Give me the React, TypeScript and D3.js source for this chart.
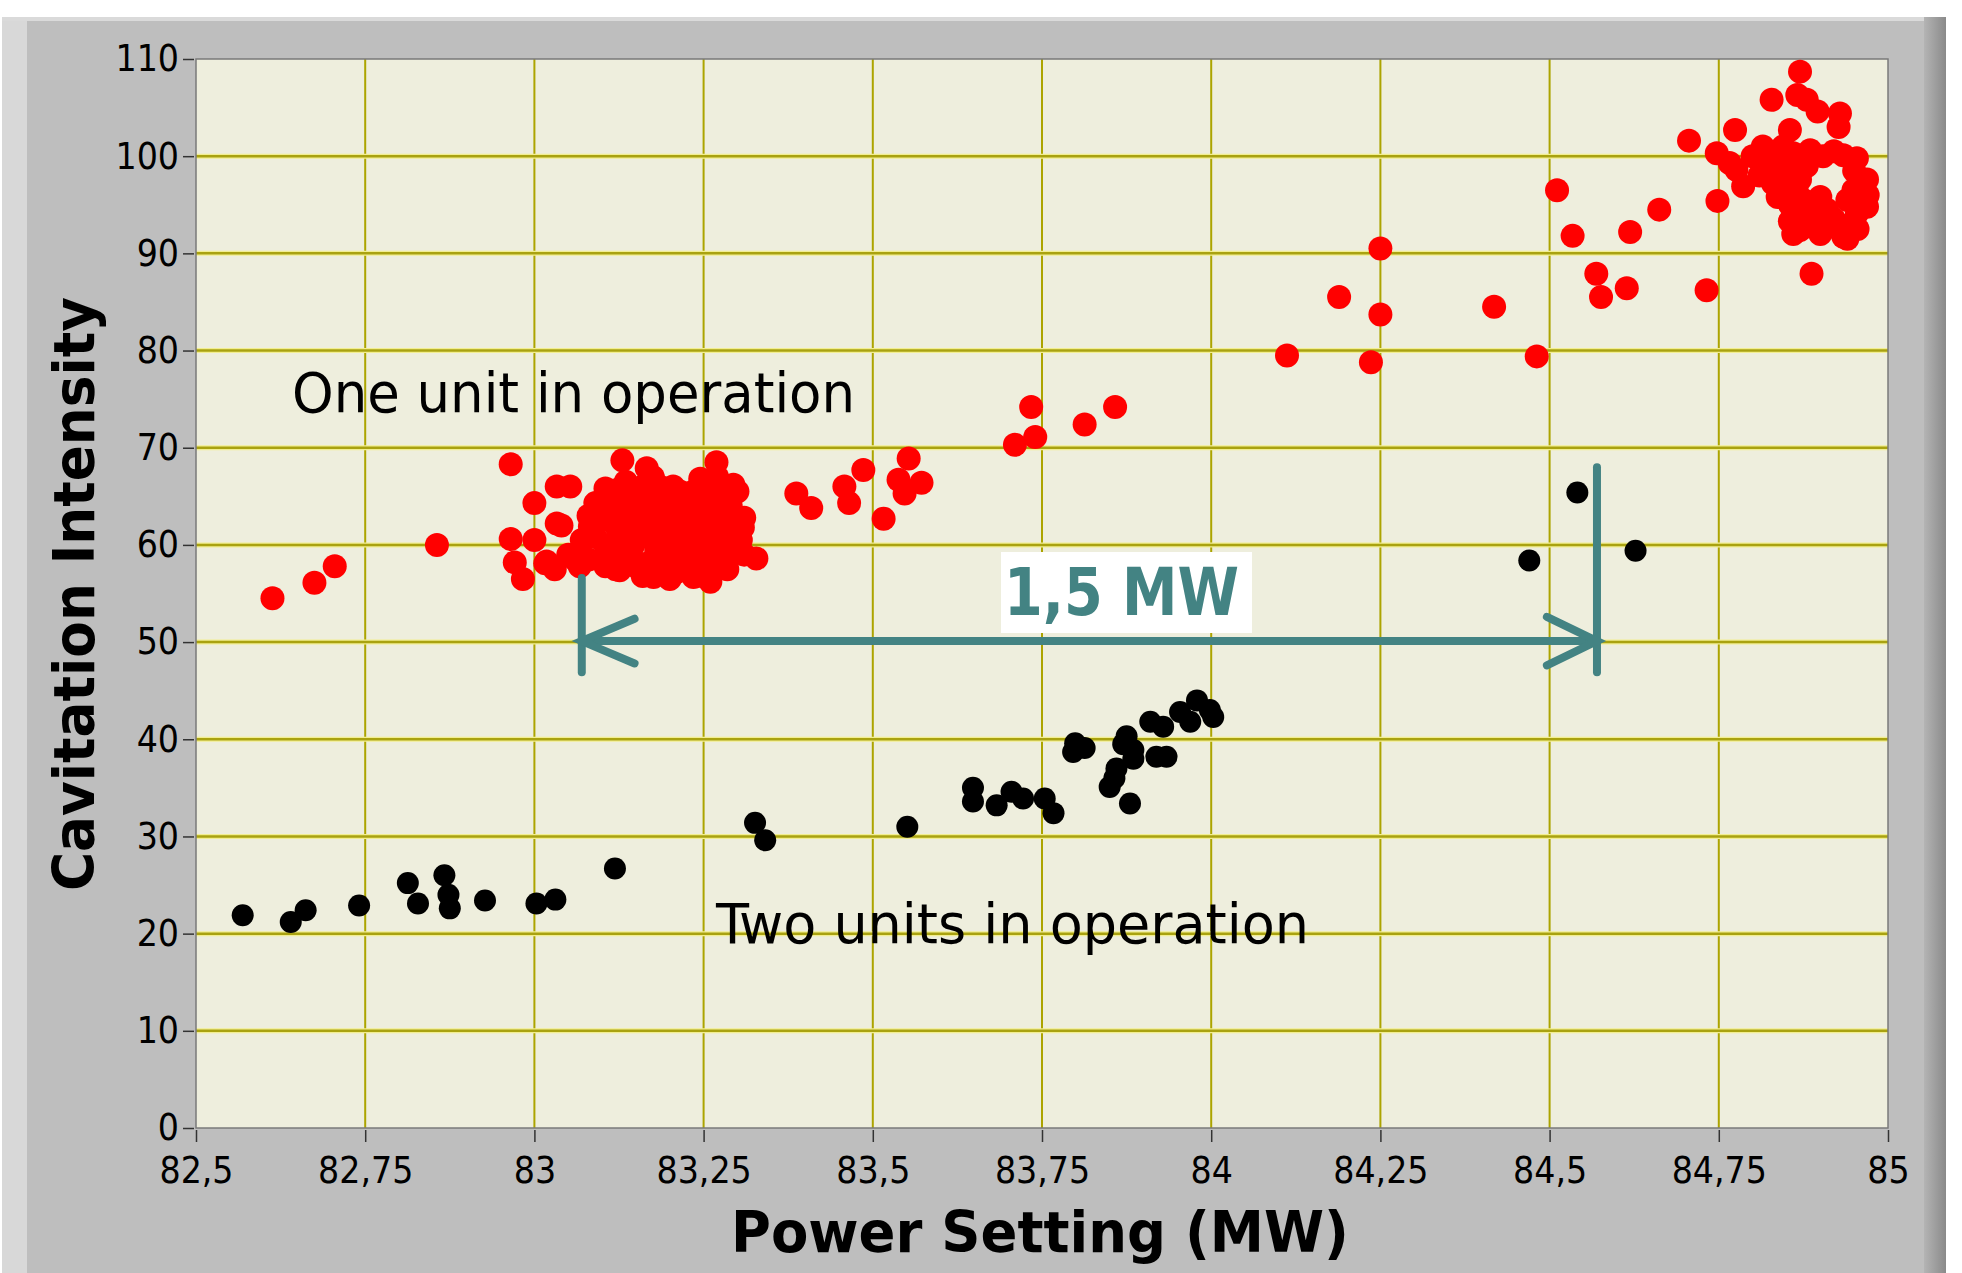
import { useEffect, useRef } from "react";
import * as d3 from "d3";

// tick values
const xTicks = [82.5, 82.75, 83, 83.25, 83.5, 83.75, 84, 84.25, 84.5, 84.75, 85];
const yTicks = [0, 10, 20, 30, 40, 50, 60, 70, 80, 90, 100, 110];

// one unit in operation (red)
const oneUnitLeft = [
  [82.613, 54.5], [82.675, 56.1], [82.705, 57.8], [82.856, 60.0], [82.965, 68.3],
  [83.0, 64.3], [83.033, 66.0], [83.053, 66.0], [82.965, 60.6], [83.0, 60.5],
  [82.971, 58.2], [82.983, 56.5], [83.033, 62.2], [83.018, 58.3], [83.016, 58.1],
  [83.03, 57.5], [83.06, 58.5], [83.04, 62.0], [83.067, 57.8], [83.082, 61.9],
  [83.09, 64.3], [83.05, 59.0], [83.07, 60.5], [83.08, 63.0],
];

const oneUnitCluster = [
  [83.13, 68.7], [83.269, 68.5], [83.166, 67.9], [83.294, 66.2], [83.25, 66.2],
  [83.124, 65.7], [83.328, 58.6], [83.294, 61.9], [83.264, 59.1], [83.235, 56.7],
  [83.176, 56.7], [83.126, 57.4], [83.294, 62.9], [83.308, 61.8],
  [83.10, 63.5], [83.12, 62.0], [83.14, 64.5], [83.15, 61.0], [83.16, 66.0],
  [83.17, 63.0], [83.18, 59.5], [83.19, 65.0], [83.20, 61.5], [83.21, 63.8],
  [83.22, 58.5], [83.23, 60.5], [83.24, 62.8], [83.25, 64.5], [83.26, 61.0],
  [83.27, 63.5], [83.28, 60.0], [83.29, 64.0], [83.11, 59.0], [83.13, 60.2],
  [83.15, 57.8], [83.17, 58.2], [83.19, 57.5], [83.21, 57.2], [83.23, 58.0],
  [83.25, 57.5], [83.27, 58.5], [83.09, 60.8], [83.08, 58.5], [83.105, 65.8],
  [83.135, 66.5], [83.175, 67.0], [83.195, 62.3], [83.215, 60.0], [83.235, 65.5],
  [83.255, 59.5], [83.285, 62.5], [83.30, 65.5], [83.31, 62.8], [83.305, 60.5],
  [83.12, 57.5], [83.16, 56.8], [83.20, 56.5], [83.24, 56.8], [83.26, 56.2],
  [83.14, 58.8], [83.18, 61.0], [83.22, 62.0], [83.28, 66.0], [83.13, 62.8],
  [83.095, 62.5], [83.105, 60.0], [83.115, 64.0], [83.125, 61.0], [83.135, 63.5],
  [83.145, 59.8], [83.155, 65.2], [83.165, 62.0], [83.175, 60.5], [83.185, 63.8],
  [83.195, 58.8], [83.205, 66.0], [83.215, 62.8], [83.225, 61.0], [83.235, 63.5],
  [83.245, 59.5], [83.255, 62.0], [83.265, 64.8], [83.275, 61.5], [83.285, 59.0],
  [83.295, 60.8], [83.145, 61.8], [83.165, 64.0], [83.185, 66.0], [83.205, 59.8],
  [83.225, 64.8], [83.245, 66.8], [83.265, 57.8], [83.195, 60.8], [83.155, 63.2],
  [83.175, 65.0], [83.215, 65.5], [83.27, 67.0], [83.285, 57.5], [83.105, 57.8],
  [83.31, 59.0],
];

const oneUnitMid = [
  [83.387, 65.3], [83.409, 63.8], [83.458, 66.0], [83.465, 64.3], [83.486, 67.7],
  [83.516, 62.7], [83.538, 66.7], [83.547, 65.3], [83.553, 68.9], [83.572, 66.4],
  [83.71, 70.3], [83.74, 71.1], [83.734, 74.2], [83.813, 72.4], [83.858, 74.2],
  [84.112, 79.5], [84.189, 85.5], [84.25, 83.7], [84.236, 78.8], [84.25, 90.5],
  [84.418, 84.5], [84.481, 79.4],
];

const oneUnitRight = [
  [84.511, 96.5], [84.534, 91.8], [84.569, 87.9], [84.576, 85.5], [84.614, 86.4],
  [84.619, 92.2], [84.662, 94.5], [84.732, 86.2], [84.887, 87.9], [84.706, 101.6],
  [84.748, 95.4], [84.87, 108.7], [84.828, 105.8], [84.866, 106.3], [84.88, 105.8],
  [84.896, 104.6], [84.929, 104.4], [84.927, 103.0], [84.774, 102.7], [84.855, 102.7],
  [84.747, 100.3], [84.766, 99.3], [84.776, 98.6], [84.786, 96.9], [84.815, 101.0],
  [84.82, 98.9], [84.83, 97.2], [84.837, 95.8], [84.86, 100.3], [84.87, 97.6],
  [84.865, 96.5], [84.885, 100.6], [84.904, 100.0], [84.934, 100.1], [84.954, 99.8],
  [84.855, 93.3], [84.87, 92.4], [84.89, 93.8], [84.91, 94.5], [84.929, 92.4],
  [84.934, 91.7], [84.949, 96.5], [84.969, 97.6], [84.969, 94.8], [84.954, 94.1],
  [84.94, 95.5], [84.875, 95.5], [84.80, 100.0], [84.81, 98.0], [84.825, 100.0],
  [84.835, 99.0], [84.845, 101.0], [84.85, 98.5], [84.84, 96.5], [84.855, 95.0],
  [84.88, 94.0], [84.9, 95.8], [84.92, 93.5], [84.945, 93.0], [84.96, 96.0],
  [84.955, 92.5], [84.92, 100.5], [84.95, 98.5], [84.97, 96.0], [84.88, 99.0],
  [84.86, 92.0], [84.9, 92.0], [84.94, 91.5],
];

// two units in operation (black)
const twoUnits = [
  [82.569, 21.9], [82.64, 21.2], [82.662, 22.4], [82.741, 22.9], [82.813, 25.2],
  [82.828, 23.1], [82.867, 26.0], [82.873, 24.0], [82.875, 22.6], [82.927, 23.4],
  [83.003, 23.1], [83.031, 23.5], [83.119, 26.7], [83.326, 31.4], [83.341, 29.6],
  [83.551, 31.0], [83.648, 35.0], [83.648, 33.6], [83.683, 33.2], [83.705, 34.6],
  [83.722, 33.9], [83.754, 33.9], [83.767, 32.4], [83.799, 39.6], [83.813, 39.1],
  [83.796, 38.7], [83.85, 35.1], [83.86, 37.0], [83.857, 36.0], [83.88, 33.4],
  [83.875, 40.3], [83.87, 39.5], [83.885, 38.9], [83.885, 38.0], [83.91, 41.8],
  [83.929, 41.3], [83.919, 38.2], [83.934, 38.2], [83.954, 42.8], [83.969, 41.8],
  [83.979, 44.0], [83.998, 43.0], [84.003, 42.3], [84.47, 58.4], [84.541, 65.4],
  [84.627, 59.4],
];

// 1,5 MW annotation (data units)
const arrowStart = 83.07;
const arrowEnd = 84.57;
const arrowLevel = 50.1;

const App = () => {
  const svgRef = useRef<SVGSVGElement | null>(null);

  useEffect(() => {
    document.body.style.margin = "0";
    drawChart();
  }, []);

  const drawChart = () => {
    const w = 1962;
    const h = 1273;
    const left = 196;
    const right = 1888;
    const top = 59;
    const bottom = 1128;
    const font = "'DejaVu Sans Condensed', 'DejaVu Sans', sans-serif";
    const teal = "#438383";

    const svg = d3.select(svgRef.current).attr("width", w).attr("height", h);
    svg.selectAll("*").remove();

    // panel frame
    svg.append("rect").attr("width", w).attr("height", h).attr("fill", "#ffffff");
    svg.append("rect").attr("x", 2).attr("y", 17).attr("width", 1944).attr("height", h - 17).attr("fill", "#bebebe");
    svg.append("rect").attr("x", 2).attr("y", 17).attr("width", 25).attr("height", h - 17).attr("fill", "#d8d8d8");
    svg.append("rect").attr("x", 2).attr("y", 17).attr("width", 1944).attr("height", 4).attr("fill", "#dadada");
    const grad = svg.append("defs").append("linearGradient").attr("id", "shade");
    grad.append("stop").attr("offset", "0%").attr("stop-color", "#b4b4b4");
    grad.append("stop").attr("offset", "100%").attr("stop-color", "#8a8a8a");
    svg.append("rect").attr("x", 1924).attr("y", 17).attr("width", 22).attr("height", h - 17).attr("fill", "url(#shade)");

    const xScale = d3.scaleLinear().domain([82.5, 85]).range([left, right]);
    const yScale = d3.scaleLinear().domain([0, 110]).range([bottom, top]);

    // plot background
    svg.append("rect")
      .attr("x", left).attr("y", top)
      .attr("width", right - left).attr("height", bottom - top)
      .attr("fill", "#eeeedd");

    // grid
    svg.append("g").selectAll("line").data(xTicks.slice(1, -1)).join("line")
      .attr("x1", (d) => xScale(d)).attr("x2", (d) => xScale(d))
      .attr("y1", top).attr("y2", bottom)
      .attr("stroke", "#aca400").attr("stroke-width", 2);
    svg.append("g").selectAll("line").data(yTicks.slice(1, -1)).join("line")
      .attr("x1", left).attr("x2", right)
      .attr("y1", (d) => yScale(d)).attr("y2", (d) => yScale(d))
      .attr("stroke", "#f2ee90").attr("stroke-width", 5);
    svg.append("g").selectAll("line").data(yTicks.slice(1, -1)).join("line")
      .attr("x1", left).attr("x2", right)
      .attr("y1", (d) => yScale(d)).attr("y2", (d) => yScale(d))
      .attr("stroke", "#a9a210").attr("stroke-width", 2.5);

    // plot border
    svg.append("rect")
      .attr("x", left).attr("y", top)
      .attr("width", right - left).attr("height", bottom - top)
      .attr("fill", "none").attr("stroke", "#7a7a7a").attr("stroke-width", 1.5);

    // axes
    const fmt = (d: any) => String(d).replace(".", ",");
    const xAxis = d3.axisBottom(xScale).tickValues(xTicks).tickFormat(fmt).tickSize(12).tickPadding(15);
    const yAxis = d3.axisLeft(yScale).tickValues(yTicks).tickFormat(fmt).tickSize(11).tickPadding(4);
    const gx = svg.append("g").attr("transform", `translate(0, ${bottom + 2})`).call(xAxis);
    const gy = svg.append("g").attr("transform", `translate(${left - 2}, 0)`).call(yAxis);
    [gx, gy].forEach((g) => {
      g.select(".domain").remove();
      g.selectAll(".tick line").attr("stroke", "#333").attr("stroke-width", 1.5);
      g.selectAll(".tick text")
        .attr("fill", "#000")
        .style("font-family", font)
        .style("font-size", "37px");
    });
    gy.selectAll(".tick text").attr("dy", "0.32em");

    // axis titles
    svg.append("text")
      .attr("x", 1040).attr("y", 1252)
      .attr("text-anchor", "middle")
      .style("font-family", font).style("font-size", "57px").style("font-weight", "bold")
      .attr("textLength", 618).attr("lengthAdjust", "spacingAndGlyphs")
      .text("Power Setting (MW)");
    svg.append("text")
      .attr("transform", "translate(94, 594) rotate(-90)")
      .attr("text-anchor", "middle")
      .style("font-family", font).style("font-size", "57px").style("font-weight", "bold")
      .attr("textLength", 594).attr("lengthAdjust", "spacingAndGlyphs")
      .text("Cavitation Intensity");

    // points
    const red = [...oneUnitLeft, ...oneUnitCluster, ...oneUnitMid, ...oneUnitRight];
    svg.append("g").selectAll("circle").data(red).join("circle")
      .attr("cx", (d) => xScale(d[0])).attr("cy", (d) => yScale(d[1]))
      .attr("r", 12).attr("fill", "#ff0000");
    svg.append("g").selectAll("circle").data(twoUnits).join("circle")
      .attr("cx", (d) => xScale(d[0])).attr("cy", (d) => yScale(d[1]))
      .attr("r", 11).attr("fill", "#000000");

    // labels
    svg.append("text")
      .attr("x", 292).attr("y", 412)
      .style("font-family", font).style("font-size", "55px")
      .attr("textLength", 563).attr("lengthAdjust", "spacingAndGlyphs")
      .text("One unit in operation");
    svg.append("text")
      .attr("x", 716).attr("y", 943)
      .style("font-family", font).style("font-size", "55px")
      .attr("textLength", 593).attr("lengthAdjust", "spacingAndGlyphs")
      .text("Two units in operation");

    // 1,5 MW arrow
    const ax0 = xScale(arrowStart);
    const ax1 = xScale(arrowEnd);
    const ay = yScale(arrowLevel);
    const arrow = svg.append("g")
      .attr("stroke", teal).attr("stroke-width", 8).attr("stroke-linecap", "round").attr("fill", "none");
    arrow.append("line").attr("x1", ax0).attr("x2", ax1).attr("y1", ay).attr("y2", ay);
    arrow.append("line").attr("x1", ax0).attr("x2", ax0).attr("y1", yScale(56.6)).attr("y2", yScale(46.9));
    arrow.append("line").attr("x1", ax1).attr("x2", ax1).attr("y1", yScale(68)).attr("y2", yScale(46.9));
    arrow.append("path").attr("d", `M${xScale(arrowStart + 0.078)},${yScale(arrowLevel + 2.3)}L${ax0},${ay}L${xScale(arrowStart + 0.078)},${yScale(arrowLevel - 2.3)}`);
    arrow.append("path").attr("d", `M${xScale(arrowEnd - 0.074)},${yScale(arrowLevel + 2.5)}L${ax1},${ay}L${xScale(arrowEnd - 0.074)},${yScale(arrowLevel - 2.5)}`);

    svg.append("rect")
      .attr("x", 1001).attr("y", 552).attr("width", 251).attr("height", 81)
      .attr("fill", "#ffffff");
    svg.append("text")
      .attr("x", 1004).attr("y", 615)
      .attr("fill", teal)
      .style("font-family", font).style("font-size", "66px").style("font-weight", "bold")
      .attr("textLength", 235).attr("lengthAdjust", "spacingAndGlyphs")
      .text("1,5 MW");
  };

  return (
    <div id="container">
      <svg ref={svgRef}></svg>
    </div>
  );
};

export default App;
